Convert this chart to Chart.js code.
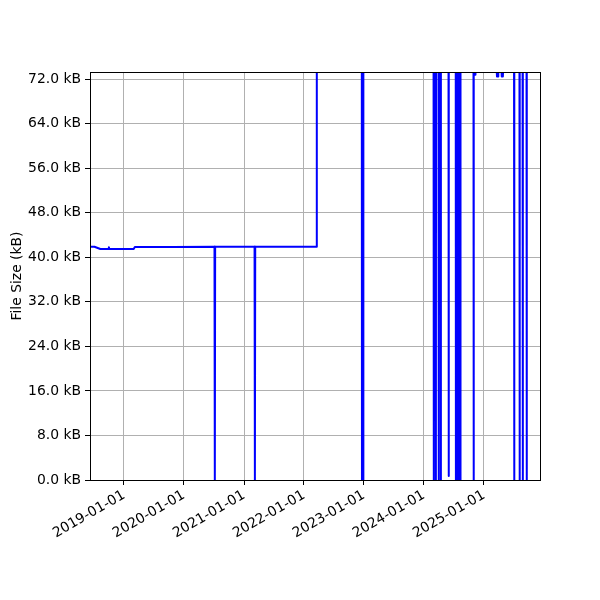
<!DOCTYPE html>
<html>
<head>
<meta charset="utf-8">
<script src="https://cdn.jsdelivr.net/npm/chart.js@4.4.1/dist/chart.umd.min.js"></script>
<style>
  html, body { margin: 0; padding: 0; background: #ffffff; }
  #wrap { width: 600px; height: 600px; }
</style>
</head>
<body>
<div id="wrap"><canvas id="c" width="600" height="600"></canvas></div>
<script>
// ---- data ----
const dates = [
  '2018-06-08','2018-07-05','2018-08-10','2018-09-28','2018-10-01','2018-10-04',
  '2019-03-01','2019-03-08','2019-10-15','2019-10-18','2019-10-22',
  '2020-07-05','2020-07-07','2020-07-09',
  '2021-03-06','2021-03-08','2021-03-10',
  '2022-03-18','2022-03-20',
  '2022-12-19','2022-12-20','2022-12-21','2022-12-27','2022-12-28','2022-12-29',
  '2024-02-29','2024-03-01','2024-03-02',
  '2024-03-13','2024-03-14','2024-03-15',
  '2024-03-30','2024-03-31','2024-04-01',
  '2024-04-12','2024-04-13','2024-04-14',
  '2024-05-30','2024-05-31','2024-06-01',
  '2024-07-13','2024-07-14','2024-07-15',
  '2024-07-19','2024-07-20','2024-07-21',
  '2024-07-25','2024-07-26','2024-07-27',
  '2024-07-31','2024-08-01','2024-08-02',
  '2024-08-06','2024-08-07','2024-08-08',
  '2024-08-10','2024-08-11','2024-08-12',
  '2024-10-29','2024-10-30','2024-10-31','2024-11-09','2024-11-10',
  '2025-03-20','2025-03-21','2025-03-28','2025-03-29',
  '2025-04-18','2025-04-19','2025-04-26','2025-04-27',
  '2025-07-03','2025-07-04','2025-07-05',
  '2025-08-05','2025-08-06','2025-08-07',
  '2025-08-24','2025-08-25','2025-08-26',
  '2025-09-17','2025-09-18','2025-09-19',
  '2025-12-08'
];
const sizesKB = [
  41.9, 41.9, 41.5, 41.5, 41.8, 41.5,
  41.5, 41.85, 41.85, 41.88, 41.85,
  41.9, 0, 41.9,
  41.9, 0, 41.9,
  41.9, 73.3,
  73.3, 0, 73.3, 73.3, 0, 73.3,
  73.3, 0, 73.3,
  73.3, 0, 73.3,
  73.3, 0, 73.3,
  73.3, 0, 73.3,
  73.3, 0.7, 73.3,
  73.3, 0, 73.3,
  73.3, 0, 73.3,
  73.3, 0, 73.3,
  73.3, 0, 73.3,
  73.3, 0, 73.3,
  73.3, 0, 73.3,
  73.3, 0, 72.8, 72.8, 73.3,
  73.3, 72.5, 72.5, 73.3,
  73.3, 72.5, 72.5, 73.3,
  73.3, 0, 73.3,
  73.3, 0, 73.3,
  73.3, 0, 73.3,
  73.3, 0, 73.3,
  73.3
];
const xTickLabels = ['2019-01-01','2020-01-01','2021-01-01','2022-01-01','2023-01-01','2024-01-01','2025-01-01'];
const yTicks = [0, 8, 16, 24, 32, 40, 48, 56, 64, 72];
const yTitle = 'File Size (kB)';

// ---- build ----
const points = dates.map((d, i) => ({ x: Date.parse(d), y: sizesKB[i] }));
const xMin = Date.parse(dates[0]);
const xMax = Date.parse(dates[dates.length - 1]);
const yMax = Math.max(...sizesKB);

const FONT = { family: 'DejaVu Sans', size: 13.9 };

const frame = {
  id: 'frame',
  afterDraw(chart) {
    const a = chart.chartArea, ctx = chart.ctx;
    ctx.save();
    ctx.strokeStyle = '#000';
    ctx.lineWidth = 1;
    ctx.strokeRect(Math.round(a.left) + 0.5, Math.round(a.top) + 0.5,
                   Math.round(a.right - a.left), Math.round(a.bottom - a.top));
    ctx.restore();
  }
};

Chart.defaults.color = '#000';

new Chart(document.getElementById('c'), {
  type: 'line',
  data: {
    datasets: [{
      data: points,
      borderColor: '#0000ff',
      borderWidth: 2,
      borderJoinStyle: 'round',
      borderCapStyle: 'butt',
      pointRadius: 0,
      tension: 0,
      fill: false
    }]
  },
  options: {
    responsive: false,
    animation: false,
    layout: { padding: { left: 0, top: 72, right: 60, bottom: 0 } },
    plugins: { legend: { display: false }, tooltip: { enabled: false } },
    scales: {
      x: {
        type: 'linear',
        min: xMin,
        max: xMax,
        afterBuildTicks(scale) {
          scale.ticks = xTickLabels.map(s => ({ value: Date.parse(s) }));
        },
        afterFit(scale) { scale.height = 120; },
        ticks: {
          font: FONT,
          color: '#000',
          maxRotation: 30,
          minRotation: 30,
          autoSkip: false,
          padding: 2,
          callback(v) {
            const d = new Date(v);
            const mm = String(d.getUTCMonth() + 1).padStart(2, '0');
            const dd = String(d.getUTCDate()).padStart(2, '0');
            return d.getUTCFullYear() + '-' + mm + '-' + dd;
          }
        },
        grid: { color: '#b0b0b0', lineWidth: 1, tickColor: '#000', tickLength: 5, drawTicks: true },
        border: { display: true, color: '#000', width: 1 }
      },
      y: {
        type: 'linear',
        min: 0,
        max: yMax,
        afterBuildTicks(scale) {
          scale.ticks = yTicks.map(v => ({ value: v }));
        },
        afterFit(scale) { scale.width = 90; },
        ticks: {
          font: FONT,
          color: '#000',
          padding: 4,
          callback(v) { return v.toFixed(1) + ' kB'; }
        },
        title: { display: true, text: yTitle, font: FONT, color: '#000', padding: { top: 9, bottom: 4 } },
        grid: { color: '#b0b0b0', lineWidth: 1, tickColor: '#000', tickLength: 5, drawTicks: true },
        border: { display: true, color: '#000', width: 1 }
      }
    }
  },
  plugins: [frame]
});
</script>
</body>
</html>
